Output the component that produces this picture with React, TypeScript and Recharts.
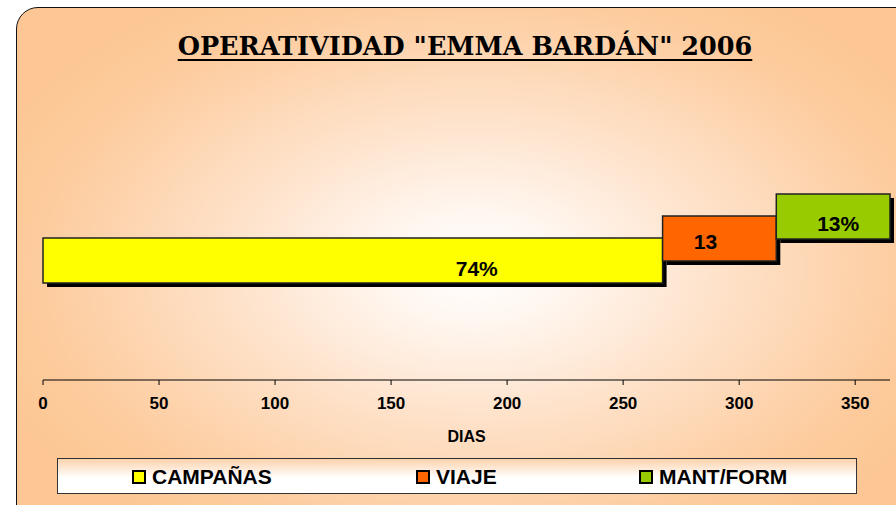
import { BarChart, Bar, XAxis, YAxis, LabelList, Label } from 'recharts';

const categories = ['2006'];
const seriesNames = ['CAMPAÑAS', 'VIAJE', 'MANT/FORM'];
const campanas = [267];
const viaje = [49];
const mantForm = [49];
const labelTexts = ['74%', '13', '13%'];
const xTicks = [0, 50, 100, 150, 200, 250, 300, 350];

const colors = ['#FFFF00', '#FF6600', '#99CC00'];
const keys = ['campanas', 'viaje', 'mant'];
// each segment is drawn a bit higher than the previous one (fake 3D look)
const lifts = [0, -22, -44];
const labelShift = [
    { dx: 124, dy: 8 },
    { dx: -14, dy: 3 },
    { dx: 5, dy: 7 },
];

const data = categories.map((name, i) => ({
    name,
    campanas: campanas[i],
    viaje: viaje[i],
    mant: mantForm[i],
}));

const sans = '"Liberation Sans", Arial, sans-serif';

function makeShape(idx: number) {
    return (props: any) => {
        const { x, y, width, height, fill } = props;
        const yy = y + lifts[idx];
        return (
            <g>
                <rect x={x + 4} y={yy + 4} width={width} height={height} fill="#000" />
                <rect x={x} y={yy} width={width} height={height} fill={fill} stroke="#222" strokeWidth={1.5} />
            </g>
        );
    };
}

function makeLabel(idx: number) {
    return (props: any) => {
        const { x, y, width, height } = props;
        const cx = x + width / 2 + labelShift[idx].dx;
        const cy = y + height / 2 + lifts[idx] + labelShift[idx].dy;
        return (
            <text
                x={cx}
                y={cy}
                textAnchor="middle"
                dominantBaseline="central"
                fontFamily={sans}
                fontWeight="bold"
                fontSize={21}
                fill="#000"
            >
                {labelTexts[idx]}
            </text>
        );
    };
}

export default function App() {
    return (
        <div style={{ position: 'absolute', left: 0, top: 0, width: 896, height: 505, overflow: 'hidden', background: '#fff' }}>
            <div
                style={{
                    position: 'absolute',
                    left: 16,
                    top: 7,
                    width: 900,
                    height: 520,
                    border: '1.5px solid #111',
                    borderTopLeftRadius: 22,
                    boxSizing: 'border-box',
                    background:
                        'radial-gradient(ellipse 58% 62% at 51% 50%, #FFFFFF 0%, #FFF6EF 18%, #FEE0C6 50%, #FDCB9C 85%, #FCC794 100%)',
                }}
            />
            <div
                style={{
                    position: 'absolute',
                    left: 0,
                    width: 930,
                    top: 31,
                    textAlign: 'center',
                    fontFamily: '"DejaVu Serif", serif',
                    fontWeight: 'bold',
                    fontSize: 25.5,
                    textDecoration: 'underline',
                    textUnderlineOffset: 4,
                    color: '#000',
                }}
            >
                OPERATIVIDAD "EMMA BARDÁN" 2006
            </div>
            <div style={{ position: 'absolute', left: 0, top: 0 }}>
                <BarChart
                    width={896}
                    height={505}
                    data={data}
                    layout="vertical"
                    margin={{ top: 140, right: 6, left: 43, bottom: 65 }}
                >
                    <XAxis
                        type="number"
                        domain={[0, 365]}
                        ticks={xTicks}
                        height={60}
                        axisLine={{ stroke: '#000' }}
                        tickLine={{ stroke: '#000' }}
                        tickSize={5}
                        tickMargin={12}
                        tick={{ fill: '#000', fontFamily: sans, fontWeight: 'bold', fontSize: 17 }}
                    >
                        <Label
                            content={(p: any) => {
                                const vb = p.viewBox;
                                return (
                                    <text
                                        x={vb.x + vb.width / 2}
                                        y={vb.y + 62}
                                        textAnchor="middle"
                                        fontFamily={sans}
                                        fontWeight="bold"
                                        fontSize={16}
                                        fill="#000"
                                    >
                                        DIAS
                                    </text>
                                );
                            }}
                        />
                    </XAxis>
                    <YAxis type="category" dataKey="name" hide width={0} />
                    {keys.map((k, i) => (
                        <Bar
                            key={k}
                            dataKey={k}
                            name={seriesNames[i]}
                            stackId="a"
                            fill={colors[i]}
                            barSize={45}
                            shape={makeShape(i)}
                            isAnimationActive={false}
                        >
                            <LabelList dataKey={k} content={makeLabel(i)} />
                        </Bar>
                    ))}
                </BarChart>
            </div>
            <div
                style={{
                    position: 'absolute',
                    left: 57,
                    top: 458,
                    width: 800,
                    height: 36,
                    boxSizing: 'border-box',
                    border: '1px solid #333',
                    background: 'linear-gradient(to bottom, #FCD2AC 0%, #FFFFFF 55%, #FFFFFF 100%)',
                }}
            >
                {seriesNames.map((s, i) => (
                    <div
                        key={s}
                        style={{
                            position: 'absolute',
                            left: [74, 358, 581][i],
                            top: 5,
                            display: 'flex',
                            alignItems: 'center',
                            fontFamily: sans,
                            fontWeight: 'bold',
                            fontSize: 21,
                            color: '#000',
                            height: 26,
                        }}
                    >
                        <span
                            style={{
                                display: 'inline-block',
                                width: 10,
                                height: 10,
                                border: '2px solid #000',
                                background: colors[i],
                                marginRight: 6,
                            }}
                        />
                        {s}
                    </div>
                ))}
            </div>
        </div>
    );
}
